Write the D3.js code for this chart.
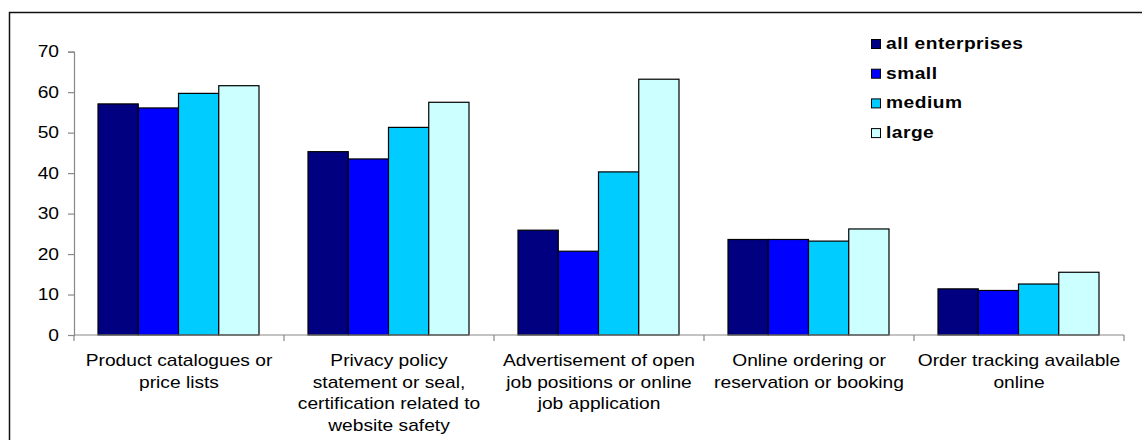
<!DOCTYPE html>
<html>
<head>
<meta charset="utf-8">
<script src="https://cdn.jsdelivr.net/npm/d3@7"></script>
<style>
  html, body { margin: 0; padding: 0; background: #fff; }
  svg { display: block; font-family: "Liberation Sans", Arial, sans-serif; }
</style>
</head>
<body>
<svg id="chart" width="1142" height="440"></svg>
<script>
const categories = [
  ["Product catalogues or", "price lists"],
  ["Privacy policy", "statement or seal,", "certification related to", "website safety"],
  ["Advertisement of open", "job positions or online", "job application"],
  ["Online ordering or", "reservation or booking"],
  ["Order tracking available", "online"]
];
const seriesNames = ["all enterprises", "small", "medium", "large"];
const allEnterprises = [57.1, 45.3, 25.9, 23.6, 11.4];
const small = [56.1, 43.5, 20.7, 23.6, 11.0];
const medium = [59.7, 51.3, 40.3, 23.2, 12.6];
const large = [61.6, 57.5, 63.2, 26.2, 15.5];
const yTicks = [0, 10, 20, 30, 40, 50, 60, 70];
const colors = ["#000080", "#0000FF", "#00CCFF", "#CCFFFF"];

(function () {
const seriesValues = [allEnterprises, small, medium, large];
const svg = d3.select("#chart");

const mLeft = 74, mRight = 1124, mTop = 51.7, mBottom = 335;
const SX = 1.2;

// frame
svg.append("path").attr("d", `M9.5,440 V12.5 H1142`)
  .attr("fill", "none").attr("stroke", "#111").attr("stroke-width", 1.5);

const x0 = d3.scaleBand().domain(d3.range(categories.length)).range([mLeft, mRight]).paddingInner(0).paddingOuter(0);
const x1 = d3.scaleBand().domain(d3.range(seriesNames.length)).range([24, x0.bandwidth() - 25]);
const y = d3.scaleLinear().domain([0, 70]).range([mBottom, mTop]);

// bars
const g = svg.append("g");
categories.forEach((c, ci) => {
  const cg = g.append("g").attr("transform", `translate(${x0(ci)},0)`);
  cg.selectAll("rect").data(seriesValues.map((s, si) => ({si, v: s[ci]})))
    .join("rect")
    .attr("x", d => x1(d.si))
    .attr("width", x1.bandwidth())
    .attr("y", d => y(d.v))
    .attr("height", d => y(0) - y(d.v))
    .attr("fill", d => colors[d.si])
    .attr("stroke", "#000").attr("stroke-width", 1.2);
});

// y axis
const yAxis = svg.append("g").attr("transform", `translate(${mLeft},0)`)
  .call(d3.axisLeft(y).tickValues(yTicks).tickSize(6).tickPadding(9).tickFormat(d3.format("d")));
yAxis.select(".domain").attr("stroke", "#888").attr("stroke-width", 1.2);
yAxis.selectAll(".tick line").attr("stroke", "#888").attr("stroke-width", 1.2);
yAxis.selectAll(".tick text").attr("font-size", 16).attr("fill", "#000")
  .attr("font-family", "Liberation Sans, Arial, sans-serif")
  .each(function() {
    const t = d3.select(this);
    const xx = +t.attr("x");
    t.attr("transform", `translate(${xx},0) scale(${SX},1)`).attr("x", 0);
  });

// x axis
const xAxis = svg.append("g").attr("transform", `translate(0,${mBottom})`);
xAxis.append("line").attr("x1", mLeft).attr("x2", mRight).attr("y1", 0).attr("y2", 0)
  .attr("stroke", "#888").attr("stroke-width", 1.2);
const boundaries = d3.range(categories.length + 1).map(i => i < categories.length ? x0(i) : x0(i - 1) + x0.bandwidth());
xAxis.selectAll("line.tk").data(boundaries).join("line").attr("class", "tk")
  .attr("x1", d => d).attr("x2", d => d).attr("y1", 0).attr("y2", 6)
  .attr("stroke", "#888").attr("stroke-width", 1.2);

// category labels
categories.forEach((lines, ci) => {
  const cx = x0(ci) + x0.bandwidth() / 2;
  lines.forEach((ln, li) => {
    svg.append("text")
      .attr("transform", `translate(${cx},${366 + li * 21.7}) scale(${SX},1)`)
      .attr("text-anchor", "middle").attr("font-size", 16).attr("fill", "#000")
      .text(ln);
  });
});

// legend
const lg = svg.append("g");
seriesNames.forEach((n, i) => {
  const yy = 39 + i * 29.7;
  lg.append("rect").attr("x", 871.5).attr("y", yy + 0.5).attr("width", 9).attr("height", 9)
    .attr("fill", colors[i]).attr("stroke", "#000").attr("stroke-width", 1);
  lg.append("text")
    .attr("transform", `translate(886,${yy + 10}) scale(${SX},1)`)
    .attr("font-size", 16).attr("font-weight", "bold").attr("letter-spacing", 0.4)
    .attr("fill", "#000").text(n);
});
})();
</script>
</body>
</html>
